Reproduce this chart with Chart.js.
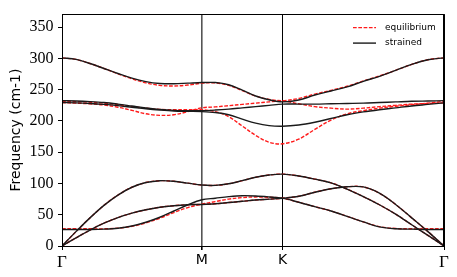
<!DOCTYPE html>
<html>
<head>
<meta charset="utf-8">
<script src="https://cdn.jsdelivr.net/npm/chart.js@4.4.0/dist/chart.umd.min.js"></script>
<style>
  html, body { margin: 0; padding: 0; background: #fff; }
</style>
</head>
<body>
<canvas id="bandChart" width="457" height="277"></canvas>
<script>
// path coordinate: Γ-M = 1, M-K, K-Γ
var qPath = [0, 0.1, 0.2, 0.3, 0.4, 0.5, 0.6, 0.7, 0.8, 0.9, 1.0,
  1.096, 1.192, 1.289, 1.385, 1.481, 1.577,
  1.693, 1.808, 1.924, 2.039, 2.155, 2.270, 2.386, 2.501, 2.617, 2.732];
var tickPositions = [0, 1, 1.577, 2.732];
var tickLabels = ['Γ', 'M', 'K', 'Γ'];
var yTicks = [0, 50, 100, 150, 200, 250, 300, 350];
var legendLabels = ['equilibrium', 'strained'];

// strained (black)
var strained1 = [0, 23, 45, 65, 81.5, 94, 101.5, 104.5, 103.5, 100.5, 97.5,
  97, 99.5, 104.5, 110, 113.5, 115,
  112, 107, 101, 91, 79, 66, 51, 34, 17, 0];
var strained2 = [0, 13, 25.5, 36.5, 45.5, 52.5, 58, 62, 64.5, 66, 66.5,
  67.5, 69.5, 71.5, 73.5, 75, 76.5,
  79.5, 86, 91.5, 94.8, 94.5, 84.5, 66.5, 45, 23, 0];
var strained3 = [26.5, 26.5, 26.5, 27, 28.5, 32, 38, 46, 56, 66, 74,
  76.5, 79, 80.5, 80, 78.5, 76.5,
  70, 63, 56, 47.5, 38.5, 30.5, 27.5, 27, 26.5, 26.5];
var strained4 = [301, 298.5, 292, 284, 276, 268.5, 263, 260, 259.5, 260.5, 261.5,
  261.5, 258, 249.5, 240, 234, 230.5,
  233.5, 241.5, 248, 254.5, 263.5, 271.5, 281, 290.5, 298, 301];
var strained5 = [232.5, 232, 231, 229.5, 227, 224, 221, 218.5, 217, 216.5, 216.5,
  217.5, 219, 221, 223, 225, 227,
  227, 227, 227.5, 228, 228.5, 229.5, 230.5, 231.5, 232, 232.5];
var strained6 = [229.5, 229, 228, 226.5, 224.5, 222, 219.5, 217.5, 216, 215.5, 215,
  213.5, 210, 203, 196.5, 192.5, 191.5,
  193.5, 198, 204, 210, 214.5, 218, 221, 224, 226.5, 229];

// equilibrium (red dashed)
var equil1 = [0, 23, 45, 65, 81.5, 94, 101.5, 104.5, 103.5, 100.5, 97.5,
  97, 99.5, 104.5, 110, 113.5, 115,
  112, 107, 101, 91, 79, 66, 51, 34, 17, 0];
var equil2 = [0, 13, 25.5, 36.5, 45.5, 52.5, 58, 62, 64.5, 66, 66.5,
  67.5, 69.5, 71.5, 73.5, 75, 76.5,
  79.5, 86, 91.5, 94.8, 94.5, 84.5, 66.5, 45, 23, 0];
var equil3 = [27.5, 27.5, 27.5, 27.5, 28.5, 31.5, 37, 44.5, 53.5, 61.5, 67,
  71, 75, 77.5, 78.5, 78, 76.5,
  70, 63, 56, 47.5, 38.5, 31, 28, 27.5, 27.5, 27.5];
var equil4 = [301, 298.5, 292, 284, 275.5, 267.5, 261, 257, 256, 257.5, 260.5,
  261, 257, 248.5, 240, 234.5, 232.5,
  236, 243, 249, 255.5, 264, 272, 281, 290.5, 298, 301];
var equil5 = [231.5, 231, 230, 228.5, 226, 223, 220.5, 218.5, 218, 218, 218,
  215, 207, 192, 177, 166, 163.5,
  171, 186.5, 201.5, 211.5, 216.5, 220.5, 223.5, 226, 228.5, 231.5];
var equil6 = [229.4, 228.5, 227.5, 225.5, 222, 217, 211.5, 209, 210, 215, 221,
  222.5, 224.5, 226.5, 228.5, 230.5, 232,
  227.5, 223, 220.5, 219, 220.5, 223, 225, 227, 228, 229];

var strainedBands = [strained1, strained2, strained3, strained4, strained5, strained6];
var equilBands = [equil1, equil2, equil3, equil4, equil5, equil6];

function makeSet(label, values, color, dash, order) {
  return {
    label: label,
    data: values.map((v, i) => ({ x: qPath[i], y: v })),
    borderColor: color,
    borderWidth: 1.4,
    borderDash: dash,
    pointRadius: 0,
    fill: false,
    tension: 0.35,
    order: order
  };
}

var datasets = [];
equilBands.forEach(b => datasets.push(makeSet(legendLabels[0], b, '#ff1a1a', [3.7, 1.6], 2)));
strainedBands.forEach(b => datasets.push(makeSet(legendLabels[1], b, '#1a1a1a', [], 1)));

// frame + legend in upper right corner
const framePlugin = {
  id: 'frameLegend',
  afterDraw(chart) {
    const ctx = chart.ctx;
    const a = chart.chartArea;
    ctx.save();
    ctx.strokeStyle = '#000';
    ctx.lineWidth = 1;
    ctx.strokeRect(Math.round(a.left) + 0.5, Math.round(a.top) + 0.5,
      Math.round(a.right - a.left) - 1, Math.round(a.bottom - a.top));

    var styles = [datasets[0], datasets[6]];
    ctx.font = '9px "DejaVu Sans"';
    ctx.textBaseline = 'middle';
    styles.forEach((ds, i) => {
      var y = a.top + 13.5 + i * 15.5;
      ctx.strokeStyle = ds.borderColor;
      ctx.lineWidth = ds.borderWidth;
      ctx.setLineDash(ds.borderDash);
      ctx.beginPath();
      ctx.moveTo(a.right - 91, y);
      ctx.lineTo(a.right - 68, y);
      ctx.stroke();
      ctx.setLineDash([]);
      ctx.fillStyle = '#000';
      ctx.fillText(legendLabels[i], a.right - 59, y);
    });
    ctx.restore();
  }
};

new Chart(document.getElementById('bandChart'), {
  type: 'line',
  data: { datasets: datasets },
  options: {
    responsive: false,
    animation: false,
    layout: { padding: { top: 12, right: 13, left: 0, bottom: 0 } },
    plugins: { legend: { display: false }, tooltip: { enabled: false } },
    scales: {
      x: {
        type: 'linear',
        min: 0,
        max: 2.732,
        afterBuildTicks: s => { s.ticks = tickPositions.map(v => ({ value: v })); },
        afterFit: s => { s.height = 31; },
        grid: {
          color: c => c.index === 1 ? '#555' : '#000',
          lineWidth: c => c.index === 1 ? 1.6 : 1,
          tickLength: 4,
          tickColor: '#000'
        },
        border: { color: '#000', width: 1 },
        ticks: {
          autoSkip: false,
          maxRotation: 0,
          padding: 2,
          color: '#000',
          callback: (v, i) => tickLabels[i],
          font: c => tickLabels[c.index] === 'Γ'
            ? { family: 'Liberation Serif', size: 17 }
            : { family: 'DejaVu Sans', size: 14 }
        }
      },
      y: {
        min: 0,
        max: 371,
        afterBuildTicks: s => { s.ticks = yTicks.map(v => ({ value: v })); },
        afterFit: s => { s.width = 62; },
        grid: { drawOnChartArea: false, tickLength: 4, tickColor: '#000' },
        border: { color: '#000', width: 1 },
        ticks: { color: '#000', padding: 4.5, font: { family: 'Liberation Serif', size: 16 } },
        title: {
          display: true,
          text: 'Frequency (cm-1)',
          color: '#000',
          font: { family: 'DejaVu Sans', size: 14 },
          padding: { top: 7.6, bottom: 0 }
        }
      }
    }
  },
  plugins: [framePlugin]
});
</script>
</body>
</html>
